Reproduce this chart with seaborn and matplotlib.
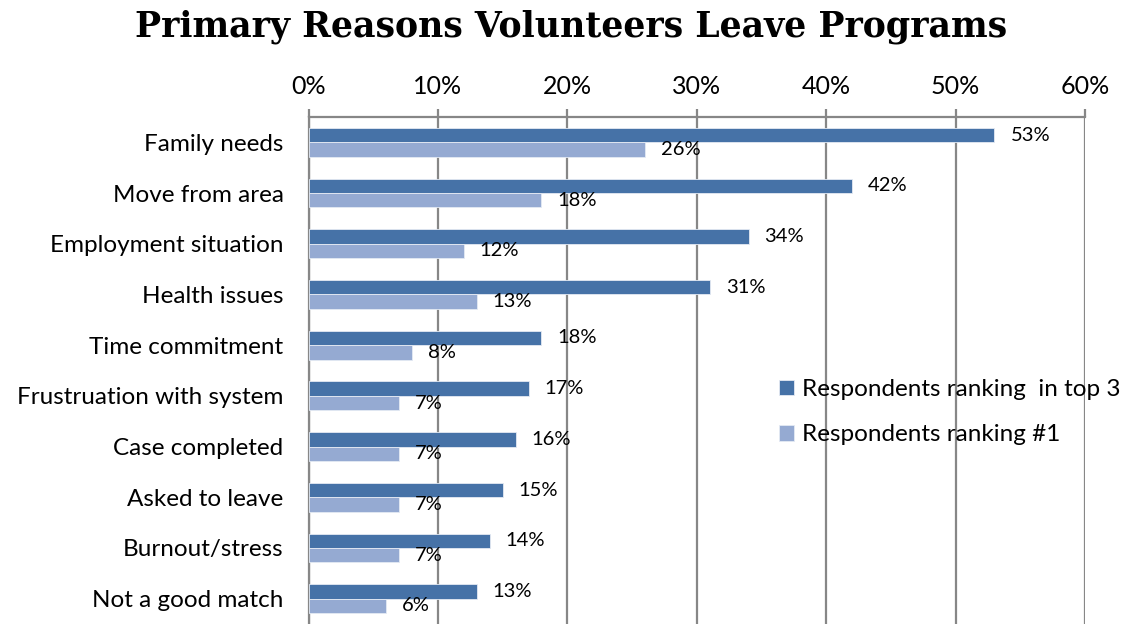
import matplotlib
matplotlib.use("Agg")
import matplotlib.pyplot as plt
import seaborn as sns
import pandas as pd
import numpy as np

categories = ["Family needs", "Move from area", "Employment situation", "Health issues",
              "Time commitment", "Frustruation with system", "Case completed",
              "Asked to leave", "Burnout/stress", "Not a good match"]
top3 = [53, 42, 34, 31, 18, 17, 16, 15, 14, 13]
rank1 = [26, 18, 12, 13, 8, 7, 7, 7, 7, 6]
series = ["Respondents ranking  in top 3", "Respondents ranking #1"]
tick_values = [0, 10, 20, 30, 40, 50, 60]
tick_labels = ["0%", "10%", "20%", "30%", "40%", "50%", "60%"]

df = pd.DataFrame({
    "reason": categories * 2,
    "pct": top3 + rank1,
    "series": [series[0]] * len(categories) + [series[1]] * len(categories),
})

sns.set_theme(style="white")
plt.rcParams["font.family"] = ["Lato", "DejaVu Sans"]
plt.rcParams["text.color"] = "black"

grid_c = "#878787"
fig = plt.figure(figsize=(11.28, 6.24), dpi=100)
ax = fig.add_axes([0.2735, 0.0, 0.6884, 0.8125])

sns.barplot(data=df, y="reason", x="pct", hue="series", order=categories,
            hue_order=series, palette=["#4672A7", "#95AAD2"], saturation=1,
            width=0.57, orient="h", ax=ax, edgecolor="#e4eaf3", linewidth=0.6,
            zorder=3)

ax.set_xlim(0, 60)
ax.set_ylim(len(categories) - 0.5, -0.5)
ax.xaxis.tick_top()
ax.set_xticks(tick_values)
ax.set_xticklabels(tick_labels, fontsize=18, color="black")
ax.tick_params(axis="x", which="major", length=6, width=1.6, color=grid_c, pad=8)
ax.xaxis.grid(True, color=grid_c, linewidth=1.6, zorder=0)
ax.set_axisbelow(True)

ax.set_yticks(range(len(categories)))
ax.set_yticklabels(categories, fontsize=17.5, color="black")
ax.tick_params(axis="y", which="major", length=0, pad=18)
ax.set_yticks(np.arange(-0.5, len(categories), 1.0), minor=True)
ax.tick_params(axis="y", which="minor", length=6, width=1.6, color=grid_c)

ax.set_xlabel("")
ax.set_ylabel("")
for side in ["right", "bottom"]:
    ax.spines[side].set_visible(False)
for side in ["top", "left"]:
    ax.spines[side].set_color(grid_c)
    ax.spines[side].set_linewidth(1.6)

for cont in ax.containers:
    ax.bar_label(cont, labels=[f"{v:.0f}%" for v in cont.datavalues],
                 padding=11.5, fontsize=14.5, color="black")

leg = ax.legend(loc="upper left", bbox_to_anchor=(0.606, 0.483), frameon=False,
                fontsize=17.5, handlelength=0.6, handleheight=0.6,
                handletextpad=0.35, labelspacing=1.0, borderpad=0,
                borderaxespad=0)
for t in leg.get_texts():
    t.set_color("black")

fig.suptitle("Primary Reasons Volunteers Leave Programs", x=0.506, y=0.985,
             fontsize=25, fontweight="bold", color="black",
             family=["DejaVu Serif"])

fig.savefig("out.png", dpi=100)
